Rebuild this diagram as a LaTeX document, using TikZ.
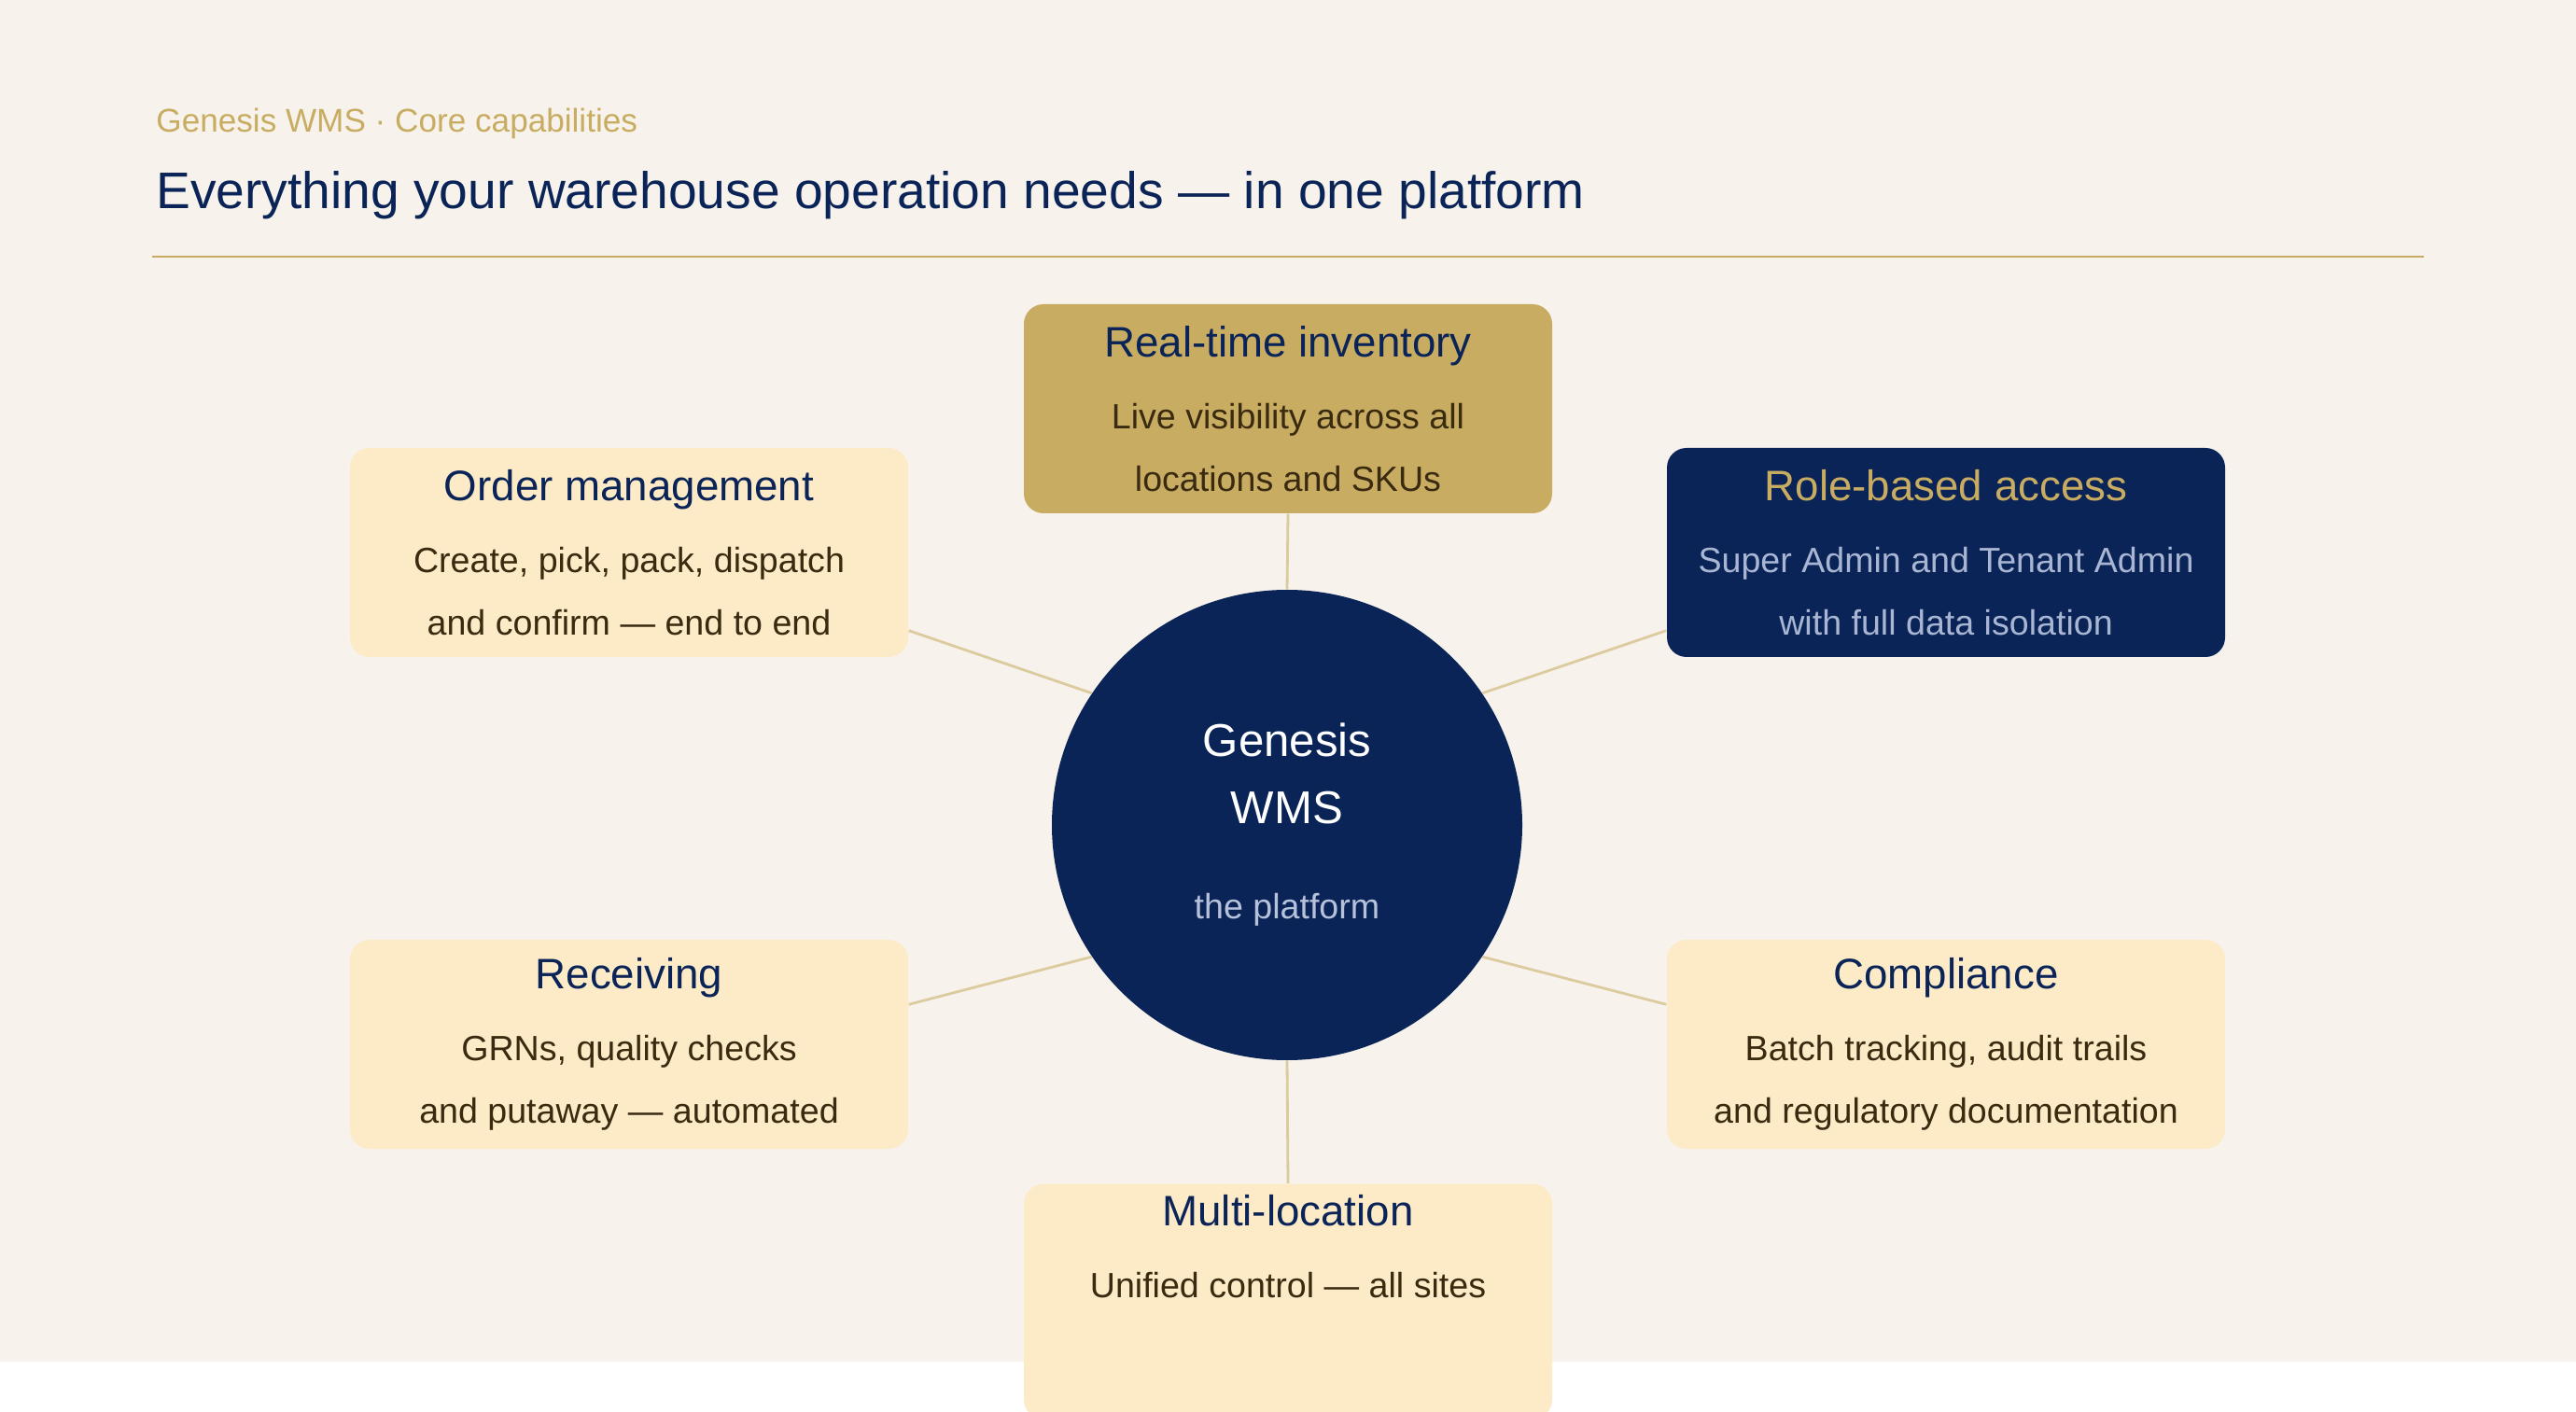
\documentclass[tikz,border=0pt]{standalone}
\usepackage{fontspec}
\setmainfont{Liberation Sans}
\usetikzlibrary{positioning}
\definecolor{navy}{HTML}{0B2457}
\definecolor{gold}{HTML}{C8AC62}
\definecolor{cream}{HTML}{FDEBC8}
\definecolor{paper}{HTML}{F7F3EC}
\definecolor{ink}{HTML}{3A2A10}
\definecolor{mist}{HTML}{A9B6D3}
\definecolor{spoke}{HTML}{DCCB9E}
\begin{document}
\begin{tikzpicture}[
                    card/.style={rectangle, rounded corners=0.21cm, minimum height=2.24cm,
                                 align=center, font=\fontsize{10.7}{19}\selectfont, text=ink},
                    wide/.style={card, minimum width=5.98cm, fill=cream},
                    link/.style={draw=spoke, line width=0.8pt}
                ]
                \useasboundingbox (0,0) rectangle (27.6,15.12);
                \fill[white] (0,0) rectangle (27.6,15.12);
                \fill[paper] (0,0.53) rectangle (27.6,15.12);
                \node[anchor=west, text=gold, font=\fontsize{10}{12}\selectfont] (sub) at (1.55,13.80) {Genesis WMS · Core capabilities};
                \node[anchor=west, text=navy, font=\fontsize{15.7}{18}\selectfont] (title) at (1.55,13.03) {Everything your warehouse operation needs — in one platform};
                \draw[gold, line width=0.8pt] (1.625,12.37) -- (25.97,12.37);

                \node[circle, fill=navy, minimum size=5.04cm, align=center, text=white,
                      font=\fontsize{14}{20.5}\selectfont] (core) at (13.79,6.28)
                    {Genesis\\WMS\\[0.3cm]
                     {\fontsize{10.7}{13}\selectfont\color{mist!85!white}the platform}};

                \node[card, minimum width=5.66cm, fill=gold] (inv) at (13.80,10.74)
                    {{\fontsize{13}{16}\selectfont\color{navy}Real-time inventory}\\[0.1cm] Live visibility across all\\locations and SKUs};
                \node[wide] (order) at (6.74,9.20)
                    {{\fontsize{13}{16}\selectfont\color{navy}Order management}\\[0.1cm] Create, pick, pack, dispatch\\and confirm — end to end};
                \node[wide, fill=navy, text=mist] (role) at (20.85,9.20)
                    {{\fontsize{13}{16}\selectfont\color{gold}Role-based access}\\[0.1cm] Super Admin and Tenant Admin\\with full data isolation};
                \node[wide] (recv) at (6.74,3.93)
                    {{\fontsize{13}{16}\selectfont\color{navy}Receiving}\\[0.1cm] GRNs, quality checks\\and putaway — automated};
                \node[wide] (comp) at (20.85,3.93)
                    {{\fontsize{13}{16}\selectfont\color{navy}Compliance}\\[0.1cm] Batch tracking, audit trails\\and regulatory documentation};
                \node[card, minimum width=5.66cm, fill=cream, anchor=north] (multi) at (13.80,2.44)
                    {{\fontsize{13}{16}\selectfont\color{navy}Multi-location}\\[0.1cm] Unified control — all sites\\[0.52cm]};

                \path[link]
                (core.north) edge (inv.south)
                (core.146) edge ([yshift=0.29cm]order.south east)
                (core.34) edge ([yshift=0.29cm]role.south west)
                (core.214) edge ([yshift=-0.7cm]recv.north east)
                (core.-34) edge ([yshift=-0.7cm]comp.north west)
                (core.south) edge (multi.north)
                ;
            \end{tikzpicture}
\end{document}
